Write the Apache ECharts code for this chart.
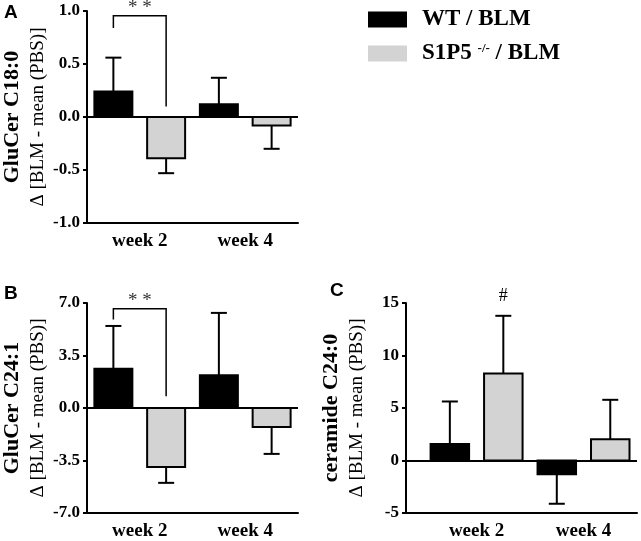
<!DOCTYPE html>
<html><head><meta charset="utf-8">
<script src="https://cdn.jsdelivr.net/npm/echarts@6/dist/echarts.min.js"></script>
<style>html,body{margin:0;padding:0;background:#fff}#c{width:641px;height:541px}</style>
</head><body><div id="c"></div>
<script>
// ---- data ----
const categories = ['week 2', 'week 4'];
const seriesNames = ['WT / BLM', 'S1P5 -/- / BLM'];
// Panel A: GluCer C18:0
const aWT = [0.24, 0.12], aWTerr = [0.32, 0.25];
const aKO = [-0.39, -0.08], aKOerr = [0.14, 0.22];
// Panel B: GluCer C24:1
const bWT = [2.62, 2.19], bWTerr = [2.85, 4.15];
const bKO = [-3.94, -1.27], bKOerr = [1.05, 1.79];
// Panel C: ceramide C24:0
const cWT = [1.56, -1.31], cWTerr = [4.06, 2.81];
const cKO = [8.28, 2.03], cKOerr = [5.50, 3.75];
// tick labels
const aTicks = [-1.0, -0.5, 0.0, 0.5, 1.0];
const bTicks = [-7.0, -3.5, 0.0, 3.5, 7.0];
const cTicks = [-5, 0, 5, 10, 15];
// significance annotations: [leftLow, top, rightLow] in axis units
const aBracket = [0.84, 0.955, 0.10];
const bBracket = [5.9, 6.61, 0.79];
const cHash = 15.6;

const SERIF = '"Liberation Serif","Times New Roman",serif';
const SANS = '"Liberation Sans",Arial,sans-serif';
const COL = ['#000000', '#d3d3d3'];
const BW = 0.36, OFF = 0.25, CAP = 8;

function barRender(sign) {
  return function (params, api) {
    const x = api.value(0) + sign * OFF;
    const v = api.value(1), e = api.value(2);
    const p0 = api.coord([x - BW / 2, 0]);
    const p1 = api.coord([x + BW / 2, v]);
    const end = api.coord([x, v + (v >= 0 ? e : -e)]);
    const bar = api.coord([x, v]);
    return {
      type: 'group',
      children: [
        { type: 'line', shape: { x1: bar[0], y1: bar[1], x2: end[0], y2: end[1] },
          style: { stroke: '#000', lineWidth: 2 } },
        { type: 'line', shape: { x1: end[0] - CAP, y1: end[1], x2: end[0] + CAP, y2: end[1] },
          style: { stroke: '#000', lineWidth: 2 } },
        { type: 'rect', shape: { x: Math.min(p0[0], p1[0]), y: Math.min(p0[1], p1[1]),
            width: Math.abs(p1[0] - p0[0]), height: Math.abs(p1[1] - p0[1]) },
          style: { fill: api.visual('color'), stroke: '#000', lineWidth: 2 } }
      ]
    };
  };
}

function mk(vals, errs) { return vals.map((v, i) => [i, v, errs[i]]); }

function barSeries(idx, name, vals, errs, sign, color, withZero) {
  const s = {
    type: 'custom', name: name, xAxisIndex: idx, yAxisIndex: idx,
    itemStyle: { color: color }, clip: false, silent: true,
    renderItem: barRender(sign), data: mk(vals, errs), z: 3
  };
  if (withZero) {
    s.markLine = { silent: true, symbol: 'none', label: { show: false },
      lineStyle: { color: '#000', width: 2, type: 'solid' }, data: [{ yAxis: 0 }] };
  }
  return s;
}

function bracketSeries(idx, br) {
  return {
    type: 'custom', xAxisIndex: idx, yAxisIndex: idx, clip: false, silent: true, z: 4,
    data: [[0, br[0], br[1], br[2]]],
    renderItem: function (params, api) {
      const l0 = api.coord([api.value(0) - OFF, api.value(1)]);
      const lt = api.coord([api.value(0) - OFF, api.value(2)]);
      const rt = api.coord([api.value(0) + OFF, api.value(2)]);
      const r0 = api.coord([api.value(0) + OFF, api.value(3)]);
      return { type: 'group', children: [
        { type: 'polyline', shape: { points: [l0, lt, rt, r0] },
          style: { stroke: '#000', lineWidth: 1.5, fill: null } },
        { type: 'text', x: (lt[0] + rt[0]) / 2, y: lt[1] + 2,
          style: { text: '* *', font: '19px ' + SERIF, fill: '#333', align: 'center', verticalAlign: 'bottom' } }
      ] };
    }
  };
}

function hashSeries(idx, y) {
  return {
    type: 'custom', xAxisIndex: idx, yAxisIndex: idx, clip: false, silent: true, z: 4,
    data: [[0, y]],
    renderItem: function (params, api) {
      const p = api.coord([api.value(0) + OFF, api.value(1)]);
      return { type: 'text', x: p[0], y: p[1],
        style: { text: '#', font: '18px ' + SERIF, fill: '#000', align: 'center', verticalAlign: 'middle' } };
    }
  };
}

function xAx(idx, min) {
  return {
    type: 'value', gridIndex: idx, min: min, max: 1.5,
    axisLine: { onZero: false, lineStyle: { color: '#000', width: 2 } },
    axisTick: { show: false }, splitLine: { show: false },
    axisLabel: { customValues: [0, 1], formatter: v => categories[Math.round(v)],
      color: '#000', fontFamily: SERIF, fontWeight: 'bold', fontSize: 19, margin: 9 }
  };
}

function yAx(idx, ticks, dec, title) {
  return {
    type: 'value', gridIndex: idx, min: ticks[0], max: ticks[ticks.length - 1],
    interval: ticks[1] - ticks[0],
    axisLine: { show: true, onZero: false, lineStyle: { color: '#000', width: 2 } },
    axisTick: { show: true, length: 4, lineStyle: { color: '#000', width: 2 } },
    splitLine: { show: false },
    axisLabel: { formatter: v => v.toFixed(dec), color: '#000', fontFamily: SERIF,
      fontWeight: 'bold', fontSize: 17, margin: 7 },
    name: '{b|' + title + '}\n{n|Δ [BLM - mean (PBS)]}',
    nameLocation: 'middle', nameGap: 36, nameRotate: 90,
    nameTextStyle: { rich: {
      b: { fontFamily: SERIF, fontWeight: 'bold', fontSize: 22, color: '#000', lineHeight: 26 },
      n: { fontFamily: SERIF, fontSize: 19, color: '#000', lineHeight: 26 }
    } }
  };
}

const chart = echarts.init(document.getElementById('c'), null, { renderer: 'canvas' });
chart.setOption({
  animation: false,
  backgroundColor: '#fff',
  grid: [
    { left: 84, top: 11, width: 214, height: 212 },
    { left: 84, top: 303, width: 214, height: 214 },
    { left: 406, top: 303, width: 231, height: 213 }
  ],
  xAxis: [xAx(0, -0.5), xAx(1, -0.5), xAx(2, -0.66)],
  yAxis: [yAx(0, aTicks, 1, 'GluCer C18:0'), yAx(1, bTicks, 1, 'GluCer C24:1'), yAx(2, cTicks, 0, 'ceramide C24:0')],
  legend: {
    left: 363, top: 3, orient: 'vertical', itemWidth: 39, itemHeight: 16, itemGap: 11,
    icon: 'rect', selectedMode: false,
    itemStyle: { borderWidth: 0 },
    data: seriesNames,
    formatter: n => n === seriesNames[1] ? 'S1P5 {s|-/-} / BLM' : n,
    textStyle: { fontFamily: SERIF, fontWeight: 'bold', fontSize: 23, color: '#000',
      padding: [0, 0, 0, 10],
      rich: { s: { fontFamily: SERIF, fontSize: 13, fontWeight: 'bold', color: '#000',
        verticalAlign: 'top', padding: [0, 0, 10, 0] } } }
  },
  graphic: [
    { type: 'text', left: 4, top: 3, style: { text: 'A', font: 'bold 19px ' + SANS, fill: '#000' } },
    { type: 'text', left: 4, top: 284, style: { text: 'B', font: 'bold 19px ' + SANS, fill: '#000' } },
    { type: 'text', left: 330, top: 281, style: { text: 'C', font: 'bold 19px ' + SANS, fill: '#000' } }
  ],
  series: [
    barSeries(0, seriesNames[0], aWT, aWTerr, -1, COL[0], true),
    barSeries(0, seriesNames[1], aKO, aKOerr, 1, COL[1], false),
    barSeries(1, seriesNames[0], bWT, bWTerr, -1, COL[0], true),
    barSeries(1, seriesNames[1], bKO, bKOerr, 1, COL[1], false),
    barSeries(2, seriesNames[0], cWT, cWTerr, -1, COL[0], true),
    barSeries(2, seriesNames[1], cKO, cKOerr, 1, COL[1], false),
    bracketSeries(0, aBracket),
    bracketSeries(1, bBracket),
    hashSeries(2, cHash)
  ]
});
</script></body></html>
